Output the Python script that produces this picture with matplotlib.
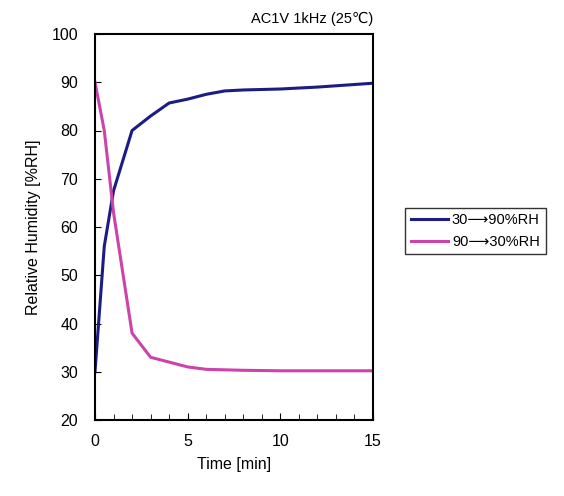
import numpy as np
import matplotlib
matplotlib.use('Agg')
import matplotlib.pyplot as plt
from matplotlib.ticker import MultipleLocator

plt.rcParams['font.family'] = ['Liberation Sans', 'DejaVu Sans']

# Time [min]
t_up = [0, 0.5, 1, 2, 3, 4, 5, 6, 7, 8, 10, 12, 15]
rh_up = [30, 56, 67.5, 80, 83, 85.7, 86.5, 87.5, 88.2, 88.4, 88.6, 89.0, 89.8]

t_down = [0, 0.5, 1, 2, 3, 4, 5, 6, 7, 8, 10, 12, 15]
rh_down = [90, 80, 63, 38, 33, 32, 31, 30.5, 30.4, 30.3, 30.2, 30.2, 30.2]

labels = ['30\u27f690%RH', '90\u27f630%RH']

fig = plt.figure(figsize=(5.64, 4.96), dpi=100)
ax = fig.add_axes([95/564, 1 - 420/496, (373-95)/564, (420-34)/496])

ax.plot(t_up, rh_up, color='#1c1c84', lw=2.2, label=labels[0])
ax.plot(t_down, rh_down, color='#cc44aa', lw=2.2, label=labels[1])

ax.set_xlim(0, 15)
ax.set_ylim(20, 100)
ax.xaxis.set_major_locator(MultipleLocator(5))
ax.xaxis.set_minor_locator(MultipleLocator(1))
ax.yaxis.set_major_locator(MultipleLocator(10))
ax.tick_params(axis='both', which='both', direction='in', labelsize=11.5, colors='black')
ax.tick_params(axis='x', which='major', length=5, pad=10)
ax.tick_params(axis='x', which='minor', length=4)
ax.tick_params(axis='y', which='major', length=4, pad=12)
for s in ax.spines.values():
    s.set_linewidth(1.5)

ax.set_xlabel('Time [min]', fontsize=11.5, labelpad=6)
ax.set_ylabel('Relative Humidity [%RH]', fontsize=11.5, labelpad=8)
ax.set_title('AC1V 1kHz (25\u2103)', fontsize=10.5, loc='right', pad=8)

fig.legend(loc='center left', bbox_to_anchor=(398/564, 1 - 231/496), fontsize=10.5,
           frameon=True, fancybox=False, edgecolor='black', handlelength=2.5,
           borderpad=0.4, labelspacing=0.5, handletextpad=0.3)

plt.savefig('out.png', dpi=100)
